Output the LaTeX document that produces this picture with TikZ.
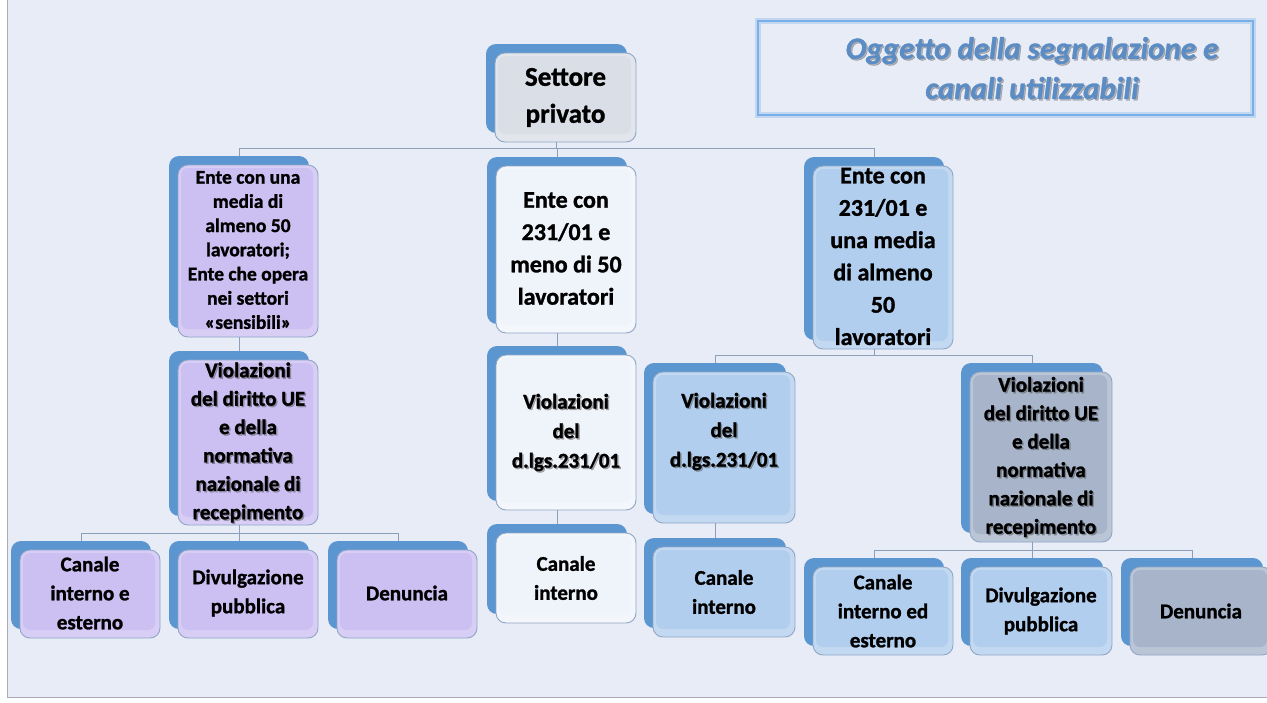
\documentclass[tikz,border=0pt]{standalone}
\usepackage{fontspec}
\setmainfont{Carlito}[BoldFeatures={FakeBold=1.2},BoldItalicFeatures={FakeBold=1.2}]
\usetikzlibrary{calc}
\definecolor{bg}{HTML}{E8ECF6}
\definecolor{tabc}{HTML}{5B96D0}
\definecolor{edgec}{HTML}{8FA6C6}
\definecolor{rootc}{HTML}{DADFE7}
\definecolor{whitec}{HTML}{EFF3FA}
\definecolor{lavc}{HTML}{CCBFF2}
\definecolor{lbluec}{HTML}{B2CEEE}
\definecolor{greybc}{HTML}{A7B4CA}
\definecolor{connc}{HTML}{8C9FB8}
\definecolor{titleedge}{HTML}{7AB0E8}
\definecolor{titletext}{HTML}{5B8CC4}
\definecolor{framec}{HTML}{A8ADB5}
\tikzset{
  backbox/.style={draw=none, fill=tabc, rounded corners=10pt, inner sep=0pt, outer sep=0pt},
  frontbox/.style={draw=edgec, line width=0.9pt, rounded corners=10pt, inner sep=0pt, outer sep=0pt},
  conn/.style={draw=connc, line width=0.9pt},
  txt/.style={align=center, inner sep=0pt, text=black},
  fA/.style={font=\fontsize{27}{37}\selectfont\bfseries},
  fB/.style={font=\fontsize{19.5}{24.2}\selectfont\bfseries},
  fC/.style={font=\fontsize{24}{32.3}\selectfont\bfseries},
  fD/.style={font=\fontsize{21}{28.4}\selectfont\bfseries},
  fE/.style={font=\fontsize{21}{29.5}\selectfont\bfseries},
  fF/.style={font=\fontsize{21}{29}\selectfont\bfseries},
}
\newcommand\tnode[6]{%
  \node[backbox, minimum width={#4-#2}, minimum height={#5-#3}] (#1b) at ({(#2+#4)/2-9},{(#3+#5)/2-9}) {};
  \node[frontbox, fill=#6!78!white, minimum width={#4-#2}, minimum height={#5-#3}] (#1) at ({(#2+#4)/2},{(#3+#5)/2}) {};
  \fill[#6, rounded corners=7pt] ({#2+3},{#3+3}) rectangle ({#4-5},{#5-8});
}
\newcommand\ptext[5]{%
  \node[txt, #4] (#1) at ($(#2)+(0,#3)$) {#5};
}
\newcommand\stext[5]{%
  \node[txt, #4, text=black!70, opacity=0.45] at ($(#2)+(1.4,{#3+1.4})$) {#5};
  \node[txt, #4] (#1) at ($(#2)+(0,#3)$) {#5};
}
\begin{document}
\begin{tikzpicture}[x=1pt,y=-1pt]
\useasboundingbox (0,0) rectangle (1267,702);
\clip (0,0) rectangle (1267,702);
\fill[white] (0,0) rectangle (1267,702);
\fill[bg] (7,0) rectangle (1267,697);
\draw[framec, line width=1pt] (7,0) -- (7,697) -- (1267,697);

% title
\draw[titleedge, opacity=0.35, line width=6pt] (758,21) rectangle (1253,115);
\draw[titleedge, line width=2pt] (758,21) rectangle (1253,115);
\node[align=center, inner sep=0pt, text=black, opacity=0.25, font=\fontsize{31}{40}\selectfont\bfseries\itshape] at (1033.5,69.5) {Oggetto della segnalazione e\\canali utilizzabili};
\node[align=center, inner sep=0pt, text=titletext, font=\fontsize{31}{40}\selectfont\bfseries\itshape] (title) at (1032,68) {Oggetto della segnalazione e\\canali utilizzabili};

% boxes
\tnode{root}{495}{53}{636}{142}{rootc}
\tnode{e1}{178}{165}{318}{337}{lavc}
\tnode{e2}{496}{166}{636}{333}{whitec}
\tnode{e3}{813}{166}{953}{349}{lbluec}
\tnode{v1}{178}{360}{318}{525}{lavc}
\tnode{v2}{496}{355}{636}{510}{whitec}
\tnode{v3}{653}{372}{795}{523}{lbluec}
\tnode{v4}{970}{372}{1112}{542}{greybc}
\tnode{c1}{20}{550}{160}{638}{lavc}
\tnode{c2}{178}{550}{318}{638}{lavc}
\tnode{c3}{337}{550}{477}{638}{lavc}
\tnode{c4}{496}{533}{636}{623}{whitec}
\tnode{c5}{653}{547}{795}{637}{lbluec}
\tnode{c6}{813}{567}{953}{655}{lbluec}
\tnode{c7}{970}{567}{1112}{655}{lbluec}
\tnode{c8}{1130}{567}{1272}{655}{greybc}

% texts
\ptext{rootT}{root}{0}{fA}{Settore\\privato}
\ptext{e1T}{e1}{-1}{fB}{Ente con una\\media di\\almeno 50\\lavoratori;\\Ente che opera\\nei settori\\«sensibili»}
\ptext{e2T}{e2}{-1}{fC}{Ente con\\231/01 e\\meno di 50\\lavoratori}
\ptext{e3T}{e3}{-1}{fC}{Ente con\\231/01 e\\una media\\di almeno\\50\\lavoratori}
\stext{v1T}{v1}{0}{fD}{Violazioni\\del diritto UE\\e della\\normativa\\nazionale di\\recepimento}
\stext{v2T}{v2}{0}{fE}{Violazioni\\del\\d.lgs.231/01}
\stext{v3T}{v3}{-16}{fE}{Violazioni\\del\\d.lgs.231/01}
\stext{v4T}{v4}{0}{fD}{Violazioni\\del diritto UE\\e della\\normativa\\nazionale di\\recepimento}
\ptext{c1T}{c1}{-1}{fF}{Canale\\interno e\\esterno}
\ptext{c2T}{c2}{-1}{fF}{Divulgazione\\pubblica}
\ptext{c3T}{c3}{-1}{fF}{Denuncia}
\ptext{c4T}{c4}{0}{fF}{Canale\\interno}
\ptext{c5T}{c5}{0}{fF}{Canale\\interno}
\ptext{c6T}{c6}{0}{fF}{Canale\\interno ed\\esterno}
\ptext{c7T}{c7}{0}{fF}{Divulgazione\\pubblica}
\ptext{c8T}{c8}{0}{fF}{Denuncia}

% connectors
\coordinate (bus1) at (0,148);
\coordinate (bus2) at (0,533);
\coordinate (bus3) at (0,355);
\coordinate (bus4) at (0,550);
\draw[conn] (rootb |- root.south) -- (rootb |- bus1);
\draw[conn] (e1b.north) -- (e1b |- bus1) -- (e3b |- bus1) -- (e3b.north);
\draw[conn] (e2b.north) -- (e2b |- bus1);
\draw[conn] (e1b |- e1.south) -- (v1b.north);
\draw[conn] (v1b |- v1.south) -- (v1b |- bus2);
\draw[conn] (c1b.north) -- (c1b |- bus2) -- (c3b |- bus2) -- (c3b.north);
\draw[conn] (c2b.north) -- (c2b |- bus2);
\draw[conn] (e2b |- e2.south) -- (v2b.north);
\draw[conn] (v2b |- v2.south) -- (c4b.north);
\draw[conn] (e3b |- e3.south) -- (e3b |- bus3);
\draw[conn] (v3b.north) -- (v3b |- bus3) -- (v4b |- bus3) -- (v4b.north);
\draw[conn] (v3b |- v3.south) -- (c5b.north);
\draw[conn] (v4b |- v4.south) -- (v4b |- bus4);
\draw[conn] (c6b.north) -- (c6b |- bus4) -- (c8b |- bus4) -- (c8b.north);
\draw[conn] (c7b.north) -- (c7b |- bus4);
\end{tikzpicture}
\end{document}
